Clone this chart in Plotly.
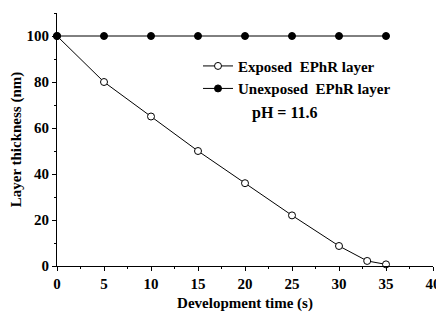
import plotly.graph_objects as go

time_exposed = [0, 5, 10, 15, 20, 25, 30, 33, 35]
thick_exposed = [100, 80, 65, 50, 36, 22, 8.7, 2.2, 0.7]
time_unexposed = [0, 5, 10, 15, 20, 25, 30, 35]
thick_unexposed = [100, 100, 100, 100, 100, 100, 100, 100]

FONT = "Liberation Serif"

fig = go.Figure()
fig.add_trace(go.Scatter(
    x=time_exposed, y=thick_exposed, mode="lines+markers",
    name="<b>Exposed  EPhR layer</b>",
    line=dict(color="black", width=1),
    marker=dict(symbol="circle", size=7, color="white", line=dict(color="black", width=1)),
    cliponaxis=False,
))
fig.add_trace(go.Scatter(
    x=time_unexposed, y=thick_unexposed, mode="lines+markers",
    name="<b>Unexposed  EPhR layer</b>",
    line=dict(color="black", width=1),
    marker=dict(symbol="circle", size=7, color="black", line=dict(color="black", width=1)),
    cliponaxis=False,
))

fig.add_annotation(x=0.513, y=0.605, xref="paper", yref="paper", text="<b>pH = 11.6</b>",
                   showarrow=False, xanchor="left", yanchor="middle",
                   font=dict(family=FONT, size=16, color="black"))

# page body has an 8px margin, so the figure is slightly smaller than the window
fig.update_layout(
    width=436, height=312,
    margin=dict(l=49, r=11, t=5, b=54),
    paper_bgcolor="white", plot_bgcolor="white",
    font=dict(family=FONT, color="black"),
    showlegend=True,
    legend=dict(x=0.375, y=0.855, xanchor="left", yanchor="top",
                bgcolor="rgba(0,0,0,0)", font=dict(family=FONT, size=15, color="black"),
                itemwidth=30, tracegroupgap=0),
    xaxis=dict(
        range=[0, 40], tick0=0, dtick=5, showgrid=False, zeroline=False,
        showline=True, linecolor="black", linewidth=1, automargin=False,
        ticks="outside", ticklen=4, tickcolor="black",
        minor=dict(ticks="outside", ticklen=2, dtick=2.5, tickcolor="black"),
        tickfont=dict(family=FONT, size=15, color="black"),
        tickprefix="<b>", ticksuffix="</b>",
        title=dict(text="<b>Development time (s)</b>", font=dict(family=FONT, size=15, color="black"), standoff=6),
    ),
    yaxis=dict(
        range=[0, 110], tick0=0, dtick=20, showgrid=False, zeroline=False,
        showline=True, linecolor="black", linewidth=1, automargin=False,
        ticks="outside", ticklen=4, tickcolor="black",
        minor=dict(ticks="outside", ticklen=2, dtick=10, tickcolor="black"),
        tickfont=dict(family=FONT, size=15, color="black"),
        tickprefix="<b>", ticksuffix="</b>",
        title=dict(text="<b>Layer thickness (nm)</b>", font=dict(family=FONT, size=15, color="black"), standoff=1),
    ),
)

fig.write_html("out.html")
